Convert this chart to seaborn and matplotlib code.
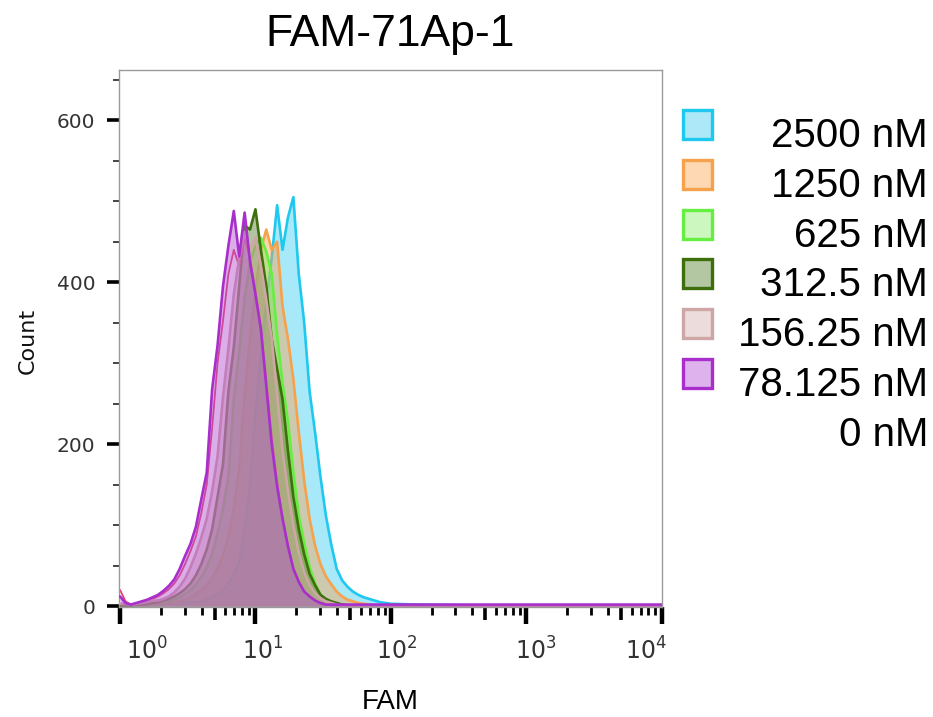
import numpy as np
import pandas as pd
import matplotlib
matplotlib.use("Agg")
import matplotlib.pyplot as plt
import seaborn as sns
from matplotlib.patches import Rectangle
from matplotlib.transforms import ScaledTranslation
from matplotlib.ticker import FixedLocator, MultipleLocator, NullFormatter, LogFormatterSciNotation

# ---------------- data ----------------
# log10(FAM) bin positions
log_fam = [0.00, 0.04, 0.08, 0.12, 0.16, 0.20, 0.24, 0.28, 0.32, 0.36,
           0.40, 0.44, 0.48, 0.52, 0.56, 0.60, 0.64, 0.68, 0.72, 0.76,
           0.80, 0.84, 0.88, 0.92, 0.96, 1.00, 1.04, 1.08, 1.12, 1.16,
           1.20, 1.24, 1.28, 1.32, 1.36, 1.40, 1.44, 1.48, 1.52, 1.56,
           1.60, 1.64, 1.68, 1.72, 1.76, 1.80, 1.84, 1.88, 1.92, 1.96,
           2.00, 2.20, 2.60, 3.00, 3.50, 4.00]

count_2500 = [1, 1, 1, 1, 1, 1, 2, 2, 2, 3,
              3, 4, 4, 5, 5, 6, 8, 11, 15, 20,
              28, 38, 55, 95, 150, 240, 310, 375, 430, 495,
              440, 480, 505, 410, 350, 265, 215, 160, 112, 76,
              46, 32, 24, 18, 14, 11, 9, 7, 5, 4,
              3, 2, 1, 1, 1, 1]
count_1250 = [1, 1, 1, 1, 1, 2, 2, 3, 3, 4,
              4, 6, 8, 11, 15, 20, 26, 35, 47, 62,
              85, 120, 170, 260, 330, 390, 440, 465, 440, 450,
              370, 330, 280, 215, 155, 108, 75, 52, 37, 27,
              18, 12, 8, 6, 4, 3, 2, 1, 1, 1,
              1, 1, 1, 1, 1, 1]
count_625 = [1, 1, 1, 1, 2, 2, 3, 4, 5, 6,
             8, 11, 15, 20, 27, 36, 48, 65, 90, 120,
             160, 255, 315, 380, 425, 445, 455, 438, 410, 335,
             275, 228, 165, 112, 78, 48, 28, 14, 8, 5,
             3, 2, 1, 1, 1, 1, 1, 1, 1, 1,
             1, 1, 1, 1, 1, 1]
count_312 = [1, 1, 1, 2, 2, 3, 4, 5, 7, 9,
             12, 16, 21, 28, 38, 52, 70, 95, 135, 175,
             265, 320, 395, 470, 465, 490, 440, 395, 330, 293,
             255, 192, 135, 95, 64, 40, 26, 14, 9, 6,
             4, 2, 1, 1, 1, 1, 1, 1, 1, 1,
             1, 1, 1, 1, 1, 1]
count_156 = [3, 3, 2, 3, 4, 5, 7, 7, 9, 12,
             17, 24, 34, 48, 65, 85, 108, 142, 185, 258,
             318, 385, 430, 462, 440, 455, 420, 378, 330, 262,
             192, 142, 100, 66, 42, 26, 16, 10, 6, 4,
             2, 1, 1, 1, 1, 1, 1, 1, 1, 1,
             1, 1, 1, 1, 1, 1]
count_78 = [12, 4, 2, 4, 6, 8, 11, 14, 19, 25,
            33, 46, 62, 77, 98, 132, 165, 268, 322, 395,
            445, 488, 432, 486, 425, 385, 342, 272, 200, 148,
            108, 74, 46, 30, 18, 12, 7, 4, 2, 2,
            2, 2, 2, 2, 2, 2, 2, 2, 2, 2,
            2, 2, 2, 2, 2, 2]
count_0 = [20, 6, 2, 3, 5, 7, 9, 12, 16, 21,
           28, 38, 52, 68, 86, 115, 150, 220, 300, 352,
           410, 440, 420, 455, 430, 390, 345, 280, 210, 155,
           110, 76, 48, 31, 19, 12, 7, 4, 2, 1,
           1, 1, 1, 1, 1, 1, 1, 1, 1, 1,
           1, 1, 1, 1, 1, 1]

series_labels = ["2500 nM", "1250 nM", "625 nM", "312.5 nM",
                 "156.25 nM", "78.125 nM", "0 nM"]
series_counts = [count_2500, count_1250, count_625, count_312,
                 count_156, count_78, count_0]

y_ticks = [0, 200, 400, 600]
x_decades = [1, 10, 100, 1000, 10000]

# styles
line_colors = ["#1fc8ef", "#f6a24c", "#66ee40", "#3f6e0c", "#cfa6a6", "#a82fcc", "#e8406e"]
fill_colors = ["#41cdf2", "#f8a656", "#7aee5a", "#5a7d2e", "#d9aaaa", "#b450d0", None]
swatch_faces = ["#ade8f8", "#fdd8b2", "#ccf8c0", "#b3c7a3", "#eddcdc", "#ddb2ed", None]

sns.set_style("white")
plt.rcParams["font.family"] = ["DejaVu Sans"]

W, H = 933, 717
fig = plt.figure(figsize=(W / 100, H / 100), dpi=100)
ax = fig.add_axes([119 / W, 1 - 607 / H, (662 - 119) / W, (607 - 70) / H])
ax.set_xscale("log")

df = pd.DataFrame({"log_fam": log_fam})
df["FAM"] = 10 ** df["log_fam"]

# drawing order: blue at bottom ... purple on top; 0 nM line sits under the pink/purple layers
draw_order = [0, 1, 2, 3, 6, 4, 5]
for z, i in enumerate(draw_order):
    y = np.array(series_counts[i], dtype=float)
    if fill_colors[i] is not None:
        ax.fill_between(df["FAM"], y, color=fill_colors[i], alpha=0.46, lw=0, zorder=2 + z * 0.1)
    sns.lineplot(x=df["FAM"], y=y, color=line_colors[i], lw=1.9 if i != 6 else 1.3,
                 ax=ax, zorder=2.05 + z * 0.1, sort=False)

ax.set_xlim(10 ** -0.008, 10 ** 4.003)
ax.set_ylim(-1, 662)

# spines
for s in ax.spines.values():
    s.set_color("#9a9a9a")
    s.set_linewidth(1.0)

# y ticks
ax.yaxis.set_major_locator(FixedLocator(y_ticks))
ax.yaxis.set_minor_locator(MultipleLocator(50))
ax.tick_params(axis="y", which="major", direction="out", length=9, width=2.6,
               color="black", labelsize=14.5, labelcolor="#333333", pad=8, left=True)
ax.tick_params(axis="y", which="minor", direction="out", length=4.5, width=1.4,
               color="#444444", left=True)

# x ticks
ax.xaxis.set_major_locator(FixedLocator(x_decades))
ax.xaxis.set_major_formatter(LogFormatterSciNotation())
minor_x = [d * m for d in x_decades[:-1] for m in (2, 3, 4, 6, 7, 8, 9)]
ax.xaxis.set_minor_locator(FixedLocator(minor_x))
ax.xaxis.set_minor_formatter(NullFormatter())
ax.tick_params(axis="x", which="major", direction="out", length=12, width=3.2,
               color="black", labelsize=17, labelcolor="#333333", pad=10, bottom=True)
ax.tick_params(axis="x", which="minor", direction="out", length=6, width=2.0,
               color="black", bottom=True)

# medium ticks at the 5s
sec = ax.secondary_xaxis("bottom")
sec.set_xscale("log")
sec.xaxis.set_major_locator(FixedLocator([d * 5 for d in x_decades[:-1]]))
sec.xaxis.set_major_formatter(NullFormatter())
sec.xaxis.set_minor_locator(FixedLocator([]))
sec.tick_params(axis="x", which="major", direction="out", length=9, width=2.6, color="black")
sec.spines["bottom"].set_visible(False)

# shift x tick labels like the reference
label_shift_px = [27, 7, 6, 9, -16]
for tick, dx in zip(ax.xaxis.get_major_ticks(), label_shift_px):
    lab = tick.label1
    lab.set_transform(lab.get_transform() + ScaledTranslation(dx / 100, 0, fig.dpi_scale_trans))

ax.set_ylabel("Count", fontsize=16, color="#111111")
ax.yaxis.set_label_coords(-0.149, 0.495)
ax.set_xlabel("FAM", fontsize=20, family=["Liberation Sans"], color="black")
ax.xaxis.label.set_verticalalignment("baseline")
ax.xaxis.set_label_coords(0.5, (607 - 709) / 537)
ax.set_title("FAM-71Ap-1", fontsize=32, family=["Liberation Sans"], color="black", pad=17)

# legend (right-aligned text, square swatches)
row_top = 110
row_step = 49.8
for k, lab in enumerate(series_labels):
    ytop = row_top + k * row_step
    if swatch_faces[k] is not None:
        rect = Rectangle((683 / W, 1 - (ytop + 29) / H), 29 / W, 29 / H,
                         transform=fig.transFigure, facecolor=swatch_faces[k],
                         edgecolor=line_colors[k], lw=2.4)
        fig.add_artist(rect)
    fig.text(928 / W, 1 - (ytop + 37) / H, lab, ha="right", va="baseline",
             fontsize=29, family=["Liberation Sans"], color="black")

fig.savefig("out.png", dpi=100)
